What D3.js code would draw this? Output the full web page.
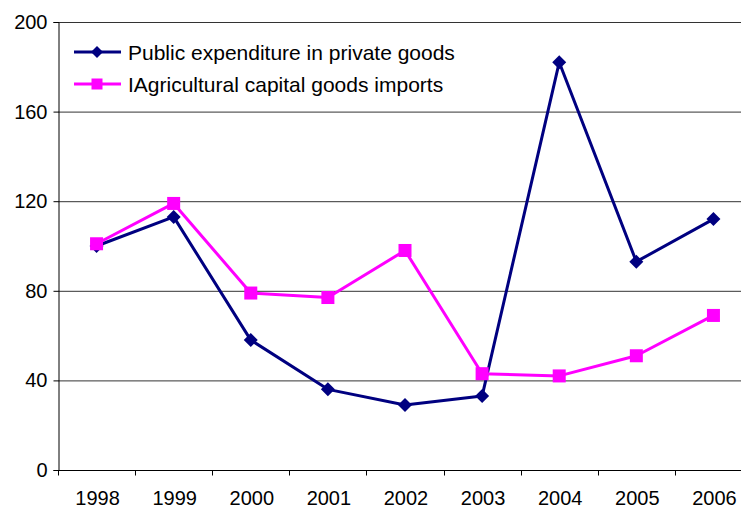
<!DOCTYPE html>
<html>
<head>
<meta charset="utf-8">
<script src="https://cdn.jsdelivr.net/npm/d3@7"></script>
<style>
  html, body { margin: 0; padding: 0; background: #fff; }
  svg { display: block; font-family: "Liberation Sans", Arial, sans-serif; }
</style>
</head>
<body>
<svg id="chart" width="741" height="509"></svg>
<script>
// Years on the category axis
const years = ["1998", "1999", "2000", "2001", "2002", "2003", "2004", "2005", "2006"];
// Index values per year
const publicExpenditure = [100, 113, 58, 36, 29, 33, 182, 93, 112];
const agriImports = [101, 119, 79, 77, 98, 43, 42, 51, 69];
// Value axis ticks
const yTicks = [0, 40, 80, 120, 160, 200];

const seriesNames = ["Public expenditure in private goods", "IAgricultural capital goods imports"];
const seriesColors = ["#000080", "#ff00ff"];

const svg = d3.select("#chart");
const plot = { left: 58, right: 752, top: 22, bottom: 470 };

const x = d3.scaleBand().domain(years).range([plot.left, plot.right]);
const y = d3.scaleLinear().domain([0, 200]).range([plot.bottom, plot.top]);

// Horizontal gridlines
svg.append("g")
  .selectAll("line")
  .data(yTicks.filter(d => d > 0))
  .join("line")
  .attr("x1", plot.left).attr("x2", plot.right)
  .attr("y1", d => y(d) + 0.5).attr("y2", d => y(d) + 0.5)
  .attr("stroke", "#333").attr("stroke-width", 1);

// Y axis
const yAxis = svg.append("g")
  .attr("transform", `translate(${plot.left + 0.5},0)`)
  .call(d3.axisLeft(y).tickValues(yTicks).tickSize(5).tickPadding(6).tickFormat(d3.format("d")));
yAxis.select(".domain").attr("stroke", "#000");
yAxis.selectAll(".tick line").attr("stroke", "#000");
yAxis.selectAll("text").attr("font-size", 20).attr("fill", "#000")
  .attr("font-family", "Liberation Sans, Arial, sans-serif");

// X axis with ticks on category boundaries
const xAxis = svg.append("g")
  .attr("transform", `translate(0,${plot.bottom + 0.5})`);
xAxis.append("line")
  .attr("x1", plot.left).attr("x2", plot.right)
  .attr("stroke", "#000");
xAxis.selectAll("line.tk")
  .data(years)
  .join("line")
  .attr("class", "tk")
  .attr("x1", d => Math.round(x(d)) + 0.5).attr("x2", d => Math.round(x(d)) + 0.5)
  .attr("y1", 0).attr("y2", 5)
  .attr("stroke", "#000");
xAxis.selectAll("text")
  .data(years)
  .join("text")
  .attr("x", d => x(d) + x.bandwidth() / 2 + 1)
  .attr("y", 34)
  .attr("text-anchor", "middle")
  .attr("font-size", 20)
  .attr("fill", "#000")
  .text(d => d);

const line = d3.line()
  .x((d, i) => x(years[i]) + x.bandwidth() / 2)
  .y(d => y(d));

function diamond(g, cx, cy, r, color) {
  g.append("path")
    .attr("d", `M${cx},${cy - r}L${cx + r},${cy}L${cx},${cy + r}L${cx - r},${cy}Z`)
    .attr("fill", color);
}
function square(g, cx, cy, s, color) {
  g.append("rect")
    .attr("x", cx - s / 2).attr("y", cy - s / 2)
    .attr("width", s).attr("height", s)
    .attr("fill", color);
}

// Series 1: public expenditure (navy, diamonds)
const g1 = svg.append("g");
g1.append("path").datum(publicExpenditure)
  .attr("d", line).attr("fill", "none")
  .attr("stroke", seriesColors[0]).attr("stroke-width", 3).attr("stroke-linejoin", "round");
publicExpenditure.forEach((v, i) => diamond(g1, x(years[i]) + x.bandwidth() / 2, y(v), 7, seriesColors[0]));

// Series 2: agricultural imports (magenta, squares)
const g2 = svg.append("g");
g2.append("path").datum(agriImports)
  .attr("d", line).attr("fill", "none")
  .attr("stroke", seriesColors[1]).attr("stroke-width", 3).attr("stroke-linejoin", "round");
agriImports.forEach((v, i) => square(g2, x(years[i]) + x.bandwidth() / 2, y(v), 13, seriesColors[1]));

// Legend
const legend = svg.append("g");
seriesNames.forEach((name, i) => {
  const ly = 52 + i * 32;
  legend.append("line")
    .attr("x1", 74).attr("x2", 121).attr("y1", ly).attr("y2", ly)
    .attr("stroke", seriesColors[i]).attr("stroke-width", 3);
  if (i === 0) diamond(legend, 97, ly, 6, seriesColors[i]);
  else square(legend, 97, ly, 11, seriesColors[i]);
  legend.append("text")
    .attr("x", 128).attr("y", ly + 7.5)
    .attr("font-size", 21).attr("fill", "#000")
    .text(name);
});
</script>
</body>
</html>
